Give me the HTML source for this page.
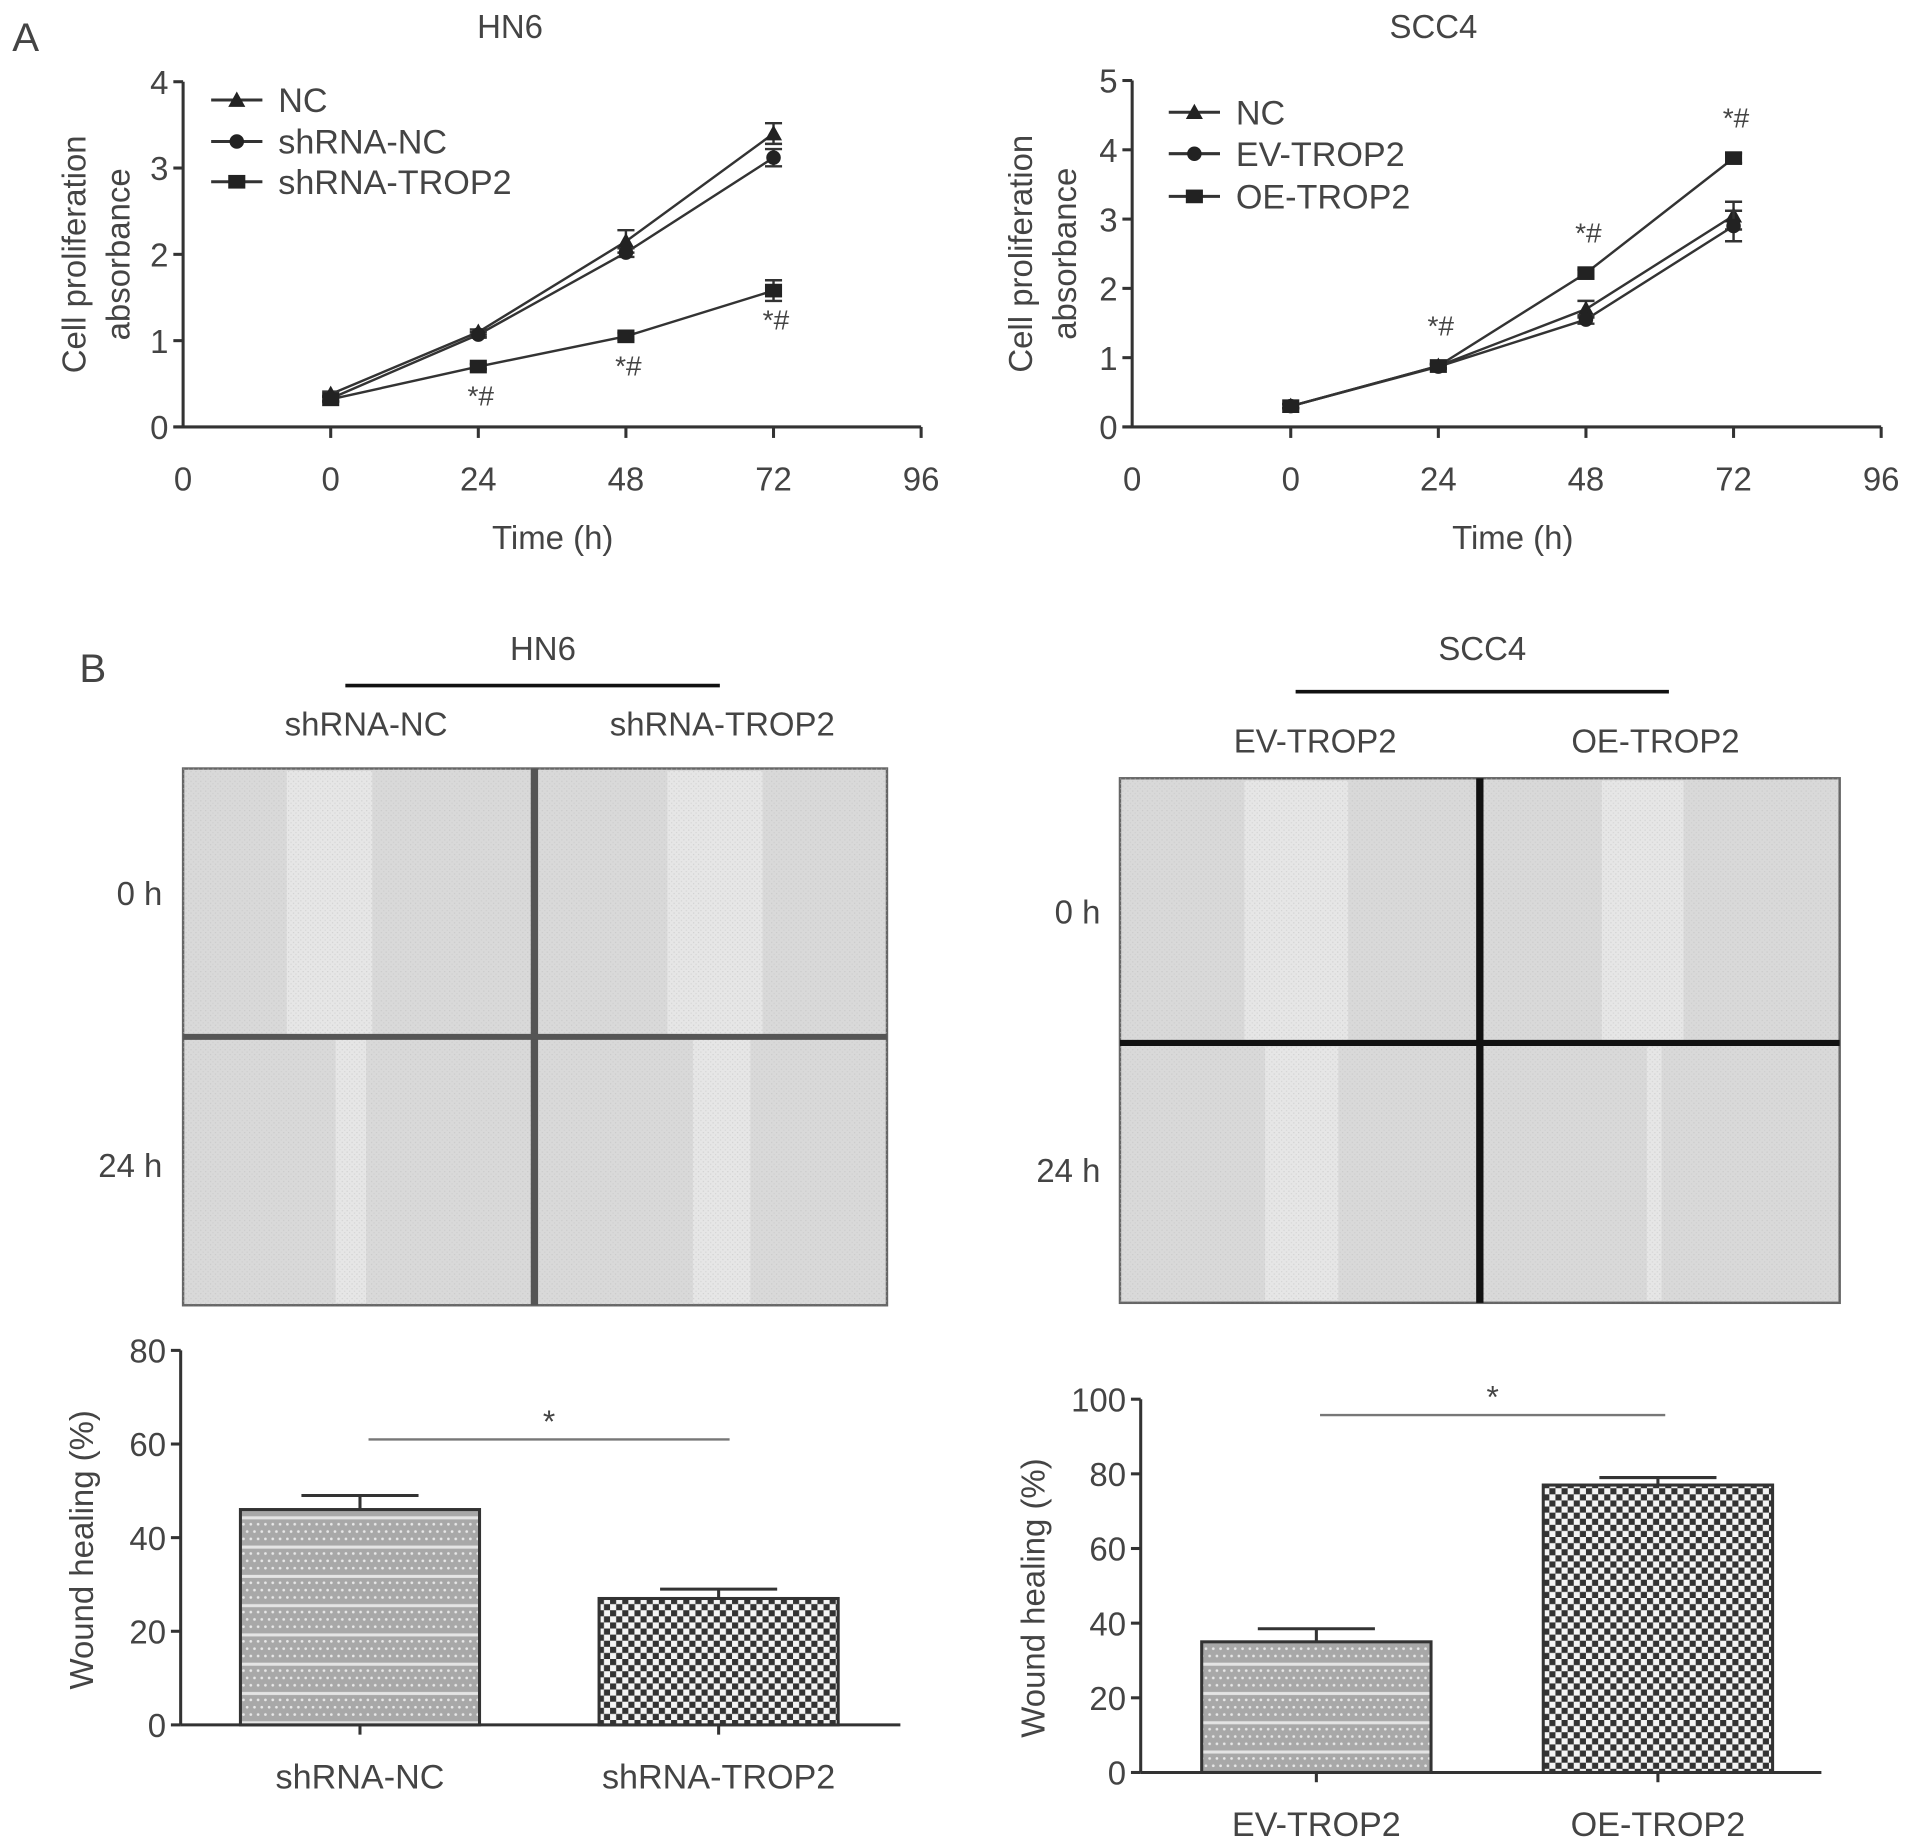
<!DOCTYPE html>
<html><head><meta charset="utf-8">
<style>
html,body{margin:0;padding:0;background:#fff;}
svg{display:block;}
text{font-family:"Liberation Sans",Arial,sans-serif;fill:#444;}
</style></head>
<body>
<svg id="fig" width="1913" height="1842" viewBox="0 0 1568 1510" xmlns="http://www.w3.org/2000/svg">
<defs>
<pattern id="pStripe" width="6" height="24" patternUnits="userSpaceOnUse">
<rect width="6" height="24" fill="#a8a8a8"/>
<circle cx="1.5" cy="1.5" r="1.1" fill="#e8e8e8"/><circle cx="4.5" cy="7.5" r="1.1" fill="#e8e8e8"/>
<circle cx="1.5" cy="13.5" r="1.1" fill="#e8e8e8"/>
<rect y="19" width="6" height="2.5" fill="#e4e4e4"/>
</pattern>
<pattern id="pCheck" width="10" height="10" patternUnits="userSpaceOnUse">
<rect width="10" height="10" fill="#f4f4f4"/>
<rect width="5" height="5" fill="#333"/><rect x="5" y="5" width="5" height="5" fill="#333"/>
</pattern>
<pattern id="pGrain" width="4" height="4" patternUnits="userSpaceOnUse">
<rect width="4" height="4" fill="none"/>
<rect x="0" y="0" width="1" height="1" fill="#bbb" opacity="0.5"/>
<rect x="2" y="2" width="1" height="1" fill="#c4c4c4" opacity="0.5"/>
</pattern>
</defs>
<text x="10" y="42" font-size="33">A</text>
<text x="65" y="559" font-size="33">B</text>
<g id="lineCharts"></g>
<g id="woundImages"></g>
<g id="barCharts"></g>
</svg>
<script>
// ---- Line chart data ----
const timeCats = [0, 24, 48, 72];
const xTickLabels = ["0", "0", "24", "48", "72", "96"];
const hn6Names = ["NC", "shRNA-NC", "shRNA-TROP2"];
const hn6NC = [0.38, 1.1, 2.15, 3.4];
const hn6ShNC = [0.33, 1.07, 2.02, 3.12];
const hn6ShTROP2 = [0.32, 0.7, 1.05, 1.58];
const hn6ErrNC = [0.03, 0.03, 0.13, 0.12];
const hn6ErrShNC = [0.03, 0.03, 0.05, 0.1];
const hn6ErrShTROP2 = [0.03, 0.03, 0.04, 0.12];
const hn6YTicks = [0, 1, 2, 3, 4];
const hn6Stars = [24, 48, 72];
const sccNames = ["NC", "EV-TROP2", "OE-TROP2"];
const sccNC = [0.3, 0.88, 1.7, 3.05];
const sccEV = [0.3, 0.87, 1.55, 2.9];
const sccOE = [0.3, 0.88, 2.22, 3.88];
const sccErrNC = [0.03, 0.03, 0.12, 0.2];
const sccErrEV = [0.03, 0.03, 0.06, 0.22];
const sccErrOE = [0.03, 0.03, 0.05, 0.07];
const sccYTicks = [0, 1, 2, 3, 4, 5];
const sccStars = [24, 48, 72];
// ---- Bar chart data ----
const hn6BarCats = ["shRNA-NC", "shRNA-TROP2"];
const hn6BarVals = [46, 27];
const hn6BarErr = [3, 2];
const hn6BarTicks = [0, 20, 40, 60, 80];
const sccBarCats = ["EV-TROP2", "OE-TROP2"];
const sccBarVals = [35, 77];
const sccBarErr = [3.5, 2];
const sccBarTicks = [0, 20, 40, 60, 80, 100];

const NS = "http://www.w3.org/2000/svg";
function mk(parent, tag, attrs, txt) {
  const e = document.createElementNS(NS, tag);
  for (const k in attrs) e.setAttribute(k, attrs[k]);
  if (txt !== undefined) e.textContent = txt;
  parent.appendChild(e);
  return e;
}
function marker(g, shape, x, y, s) {
  let e;
  if (shape === 0) e = mk(g, "polygon", {points: `${x},${y-s} ${x-s},${y+s*0.8} ${x+s},${y+s*0.8}`, fill: "#222"});
  else if (shape === 1) e = mk(g, "circle", {cx: x, cy: y, r: s*0.85, fill: "#222"});
  else e = mk(g, "rect", {x: x-s, y: y-s*0.8, width: 2*s, height: 1.6*s, fill: "#222"});
  return e;
}

function lineChart(cfg) {
  const root = document.getElementById("lineCharts");
  const g = mk(root, "g", {});
  
  
  const ymax = cfg.yticks[cfg.yticks.length - 1];
  const Y = v => cfg.y0 - (cfg.y0 - cfg.yTop) * v / ymax;
  const X = t => cfg.xPos0 + (cfg.xPos24 - cfg.xPos0) * t / 24;
  const t = mk(g, "text", {x: cfg.titleX, y: 31, "font-size": 27, "text-anchor": "middle"}, cfg.title);
  
  
  const ya = mk(g, "line", {x1: cfg.ax, y1: cfg.yTop, x2: cfg.ax, y2: cfg.y0, stroke: "#333", "stroke-width": 2.5});
  
  
  const xEnd = X(96);
  const xa = mk(g, "line", {x1: cfg.ax - 8, y1: cfg.y0, x2: xEnd, y2: cfg.y0, stroke: "#333", "stroke-width": 2.5});
  
  
  cfg.yticks.forEach(v => {
    mk(g, "line", {x1: cfg.ax - 8, y1: Y(v), x2: cfg.ax, y2: Y(v), stroke: "#333", "stroke-width": 2.5});
    const l = mk(g, "text", {x: cfg.ax - 12, y: Y(v) + 10, "font-size": 27, "text-anchor": "end"}, String(v));
    
    
  });
  const xs = [cfg.ax, X(0), X(24), X(48), X(72), X(96)];
  xTickLabels.forEach((s, i) => {
    if (i > 0) mk(g, "line", {x1: xs[i], y1: cfg.y0, x2: xs[i], y2: cfg.y0 + 9, stroke: "#333", "stroke-width": 2.5});
    const l = mk(g, "text", {x: xs[i], y: cfg.y0 + 52, "font-size": 27, "text-anchor": "middle"}, s);
    
    
  });
  const xt = mk(g, "text", {x: (X(0) + X(96)) / 2 - 60, y: cfg.y0 + 100, "font-size": 27, "text-anchor": "middle"}, "Time (h)");
  
  
  const yt = mk(g, "text", {transform: `translate(${cfg.ytX},${(cfg.yTop + cfg.y0) / 2}) rotate(-90)`, "font-size": 27, "text-anchor": "middle"});
  
  
  mk(yt, "tspan", {x: 0, dy: 0}, "Cell proliferation");
  mk(yt, "tspan", {x: 0, dy: 36}, "absorbance");
  cfg.series.forEach((vals, si) => {
    const sg = mk(g, "g", {});
    
    
    mk(sg, "polyline", {points: vals.map((v, i) => `${X(timeCats[i])},${Y(v)}`).join(" "), fill: "none", stroke: "#333", "stroke-width": 2});
    vals.forEach((v, i) => {
      const x = X(timeCats[i]), e = cfg.errs[si][i];
      mk(sg, "path", {d: `M${x},${Y(v - e)}V${Y(v + e)}M${x - 7},${Y(v - e)}h14M${x - 7},${Y(v + e)}h14`, stroke: "#333", "stroke-width": 2, fill: "none"});
      const m = marker(sg, si, x, Y(v), 7);
      
      
    });
  });
  cfg.stars.forEach(tm => {
    const si = 2;
    const i = timeCats.indexOf(tm);
    const v = cfg.series[si][i];
    const yy = cfg.starsAbove ? Y(v) - 25 : Y(v) + 32;
    const s = mk(g, "text", {x: X(tm) + 2, y: yy, "font-size": 23, "text-anchor": "middle"}, "*#");
    
    
  });
  cfg.names.forEach((n, i) => {
    const lg = mk(g, "g", {});
    
    
    const y = cfg.legY[i];
    mk(lg, "line", {x1: cfg.legX, y1: y, x2: cfg.legX + 42, y2: y, stroke: "#333", "stroke-width": 2.5});
    marker(lg, i, cfg.legX + 21, y, 7);
    mk(lg, "text", {x: cfg.legX + 55, y: y + 10, "font-size": 28}, n);
  });
}
lineChart({name: "hn6-proliferation-chart", title: "HN6", titleX: 418, ax: 150, yTop: 67, y0: 350, xPos0: 271, xPos24: 392,
  yticks: hn6YTicks, series: [hn6NC, hn6ShNC, hn6ShTROP2], errs: [hn6ErrNC, hn6ErrShNC, hn6ErrShTROP2],
  names: hn6Names, stars: hn6Stars, starsAbove: false, ytX: 70, legX: 173, legY: [82, 116, 149]});
lineChart({name: "scc4-proliferation-chart", title: "SCC4", titleX: 1175, ax: 928, yTop: 66, y0: 350, xPos0: 1058, xPos24: 1179,
  yticks: sccYTicks, series: [sccNC, sccEV, sccOE], errs: [sccErrNC, sccErrEV, sccErrOE],
  names: sccNames, stars: sccStars, starsAbove: true, ytX: 846, legX: 958, legY: [92, 126, 161]});

function woundPanel(cfg) {
  const root = document.getElementById("woundImages");
  const g = mk(root, "g", {});
  
  
  const h = mk(g, "text", {x: cfg.titleX, y: 541, "font-size": 27, "text-anchor": "middle"}, cfg.title);
  
  
  mk(g, "line", {x1: cfg.barX1, y1: cfg.barY, x2: cfg.barX2, y2: cfg.barY, stroke: "#111", "stroke-width": 3});
  cfg.cols.forEach((c, i) => {
    const l = mk(g, "text", {x: cfg.colX[i], y: cfg.colY, "font-size": 27, "text-anchor": "middle"}, c);
    
    
  });
  ["0 h", "24 h"].forEach((r, i) => {
    const l = mk(g, "text", {x: cfg.rowX, y: cfg.rowY[i], "font-size": 27, "text-anchor": "end"}, r);
    
    
  });
  const {x1, y1, x2, y2, dx, dy} = cfg;
  const im = mk(g, "rect", {x: x1, y: y1, width: x2 - x1, height: y2 - y1, fill: "#d9d9d9", stroke: "#666", "stroke-width": 2});
  
  
  cfg.wounds.forEach(w => {
    mk(g, "rect", {x: w[0], y: w[2], width: w[1] - w[0], height: w[3] - w[2], fill: "#e6e6e6"});
  });
  mk(g, "rect", {x: x1, y: y1, width: x2 - x1, height: y2 - y1, fill: "url(#pGrain)"});
  mk(g, "line", {x1: dx, y1: y1, x2: dx, y2: y2, stroke: cfg.divColor, "stroke-width": 6});
  mk(g, "line", {x1: x1, y1: dy, x2: x2, y2: dy, stroke: cfg.divColor, "stroke-width": 5});
}
woundPanel({name: "hn6-wound-images", title: "HN6", titleX: 445, barX1: 283, barX2: 590, barY: 562,
  cols: ["shRNA-NC", "shRNA-TROP2"], colX: [300, 592], colY: 603, rowX: 133, rowY: [742, 965],
  x1: 150, y1: 630, x2: 727, y2: 1070, dx: 438, dy: 850, divColor: "#555",
  wounds: [[235, 305, 632, 848], [547, 625, 632, 848], [275, 300, 852, 1068], [568, 615, 852, 1068]]});
woundPanel({name: "scc4-wound-images", title: "SCC4", titleX: 1215, barX1: 1062, barX2: 1368, barY: 567,
  cols: ["EV-TROP2", "OE-TROP2"], colX: [1078, 1357], colY: 617, rowX: 902, rowY: [757, 969],
  x1: 918, y1: 638, x2: 1508, y2: 1068, dx: 1213, dy: 855, divColor: "#111",
  wounds: [[1020, 1105, 640, 853], [1313, 1380, 640, 853], [1037, 1097, 858, 1066], [1350, 1362, 858, 1066]]});

function barChart(cfg) {
  const root = document.getElementById("barCharts");
  const g = mk(root, "g", {});
  
  
  const ymax = cfg.ticks[cfg.ticks.length - 1];
  const Y = v => cfg.y0 - (cfg.y0 - cfg.yTop) * v / ymax;
  mk(g, "line", {x1: cfg.ax, y1: cfg.yTop, x2: cfg.ax, y2: cfg.y0, stroke: "#333", "stroke-width": 2.5});
  mk(g, "line", {x1: cfg.ax, y1: cfg.y0, x2: cfg.xEnd, y2: cfg.y0, stroke: "#333", "stroke-width": 2.5});
  cfg.ticks.forEach(v => {
    mk(g, "line", {x1: cfg.ax - 8, y1: Y(v), x2: cfg.ax, y2: Y(v), stroke: "#333", "stroke-width": 2.5});
    const l = mk(g, "text", {x: cfg.ax - 12, y: Y(v) + 10, "font-size": 27, "text-anchor": "end"}, String(v));
    
    
  });
  const yt = mk(g, "text", {transform: `translate(${cfg.ytX},${(cfg.yTop + cfg.y0) / 2 + 10}) rotate(-90)`, "font-size": 27, "text-anchor": "middle"}, "Wound healing (%)");
  
  
  const w = cfg.barW;
  cfg.vals.forEach((v, i) => {
    const cx = cfg.cx[i];
    const r = mk(g, "rect", {x: cx - w / 2, y: Y(v), width: w, height: cfg.y0 - Y(v), fill: i === 0 ? "url(#pStripe)" : "url(#pCheck)", stroke: "#333", "stroke-width": 2.5});
    
    
    const e = cfg.errs[i];
    mk(g, "path", {d: `M${cx},${Y(v)}V${Y(v + e)}M${cx - 48},${Y(v + e)}h96`, stroke: "#333", "stroke-width": 2.5, fill: "none"});
    mk(g, "line", {x1: cx, y1: cfg.y0, x2: cx, y2: cfg.y0 + 8, stroke: "#333", "stroke-width": 2.5});
    const l = mk(g, "text", {x: cx, y: cfg.y0 + 52, "font-size": 28, "text-anchor": "middle"}, cfg.cats[i]);
    
    
  });
  mk(g, "line", {x1: cfg.sigX1, y1: cfg.sigY, x2: cfg.sigX2, y2: cfg.sigY, stroke: "#777", "stroke-width": 2});
  const s = mk(g, "text", {x: (cfg.sigX1 + cfg.sigX2) / 2, y: cfg.sigY - 6, "font-size": 26, "text-anchor": "middle"}, "*");
  
  
}
barChart({name: "hn6-wound-healing-chart", ax: 148, yTop: 1107, y0: 1414, xEnd: 738, ticks: hn6BarTicks,
  cats: hn6BarCats, vals: hn6BarVals, errs: hn6BarErr, cx: [295, 589], barW: 196, ytX: 76,
  sigX1: 302, sigX2: 598, sigY: 1180});
barChart({name: "scc4-wound-healing-chart", ax: 935, yTop: 1147, y0: 1453, xEnd: 1493, ticks: sccBarTicks,
  cats: sccBarCats, vals: sccBarVals, errs: sccBarErr, cx: [1079, 1359], barW: 188, ytX: 856,
  sigX1: 1082, sigX2: 1365, sigY: 1160});
</script>
</body></html>
